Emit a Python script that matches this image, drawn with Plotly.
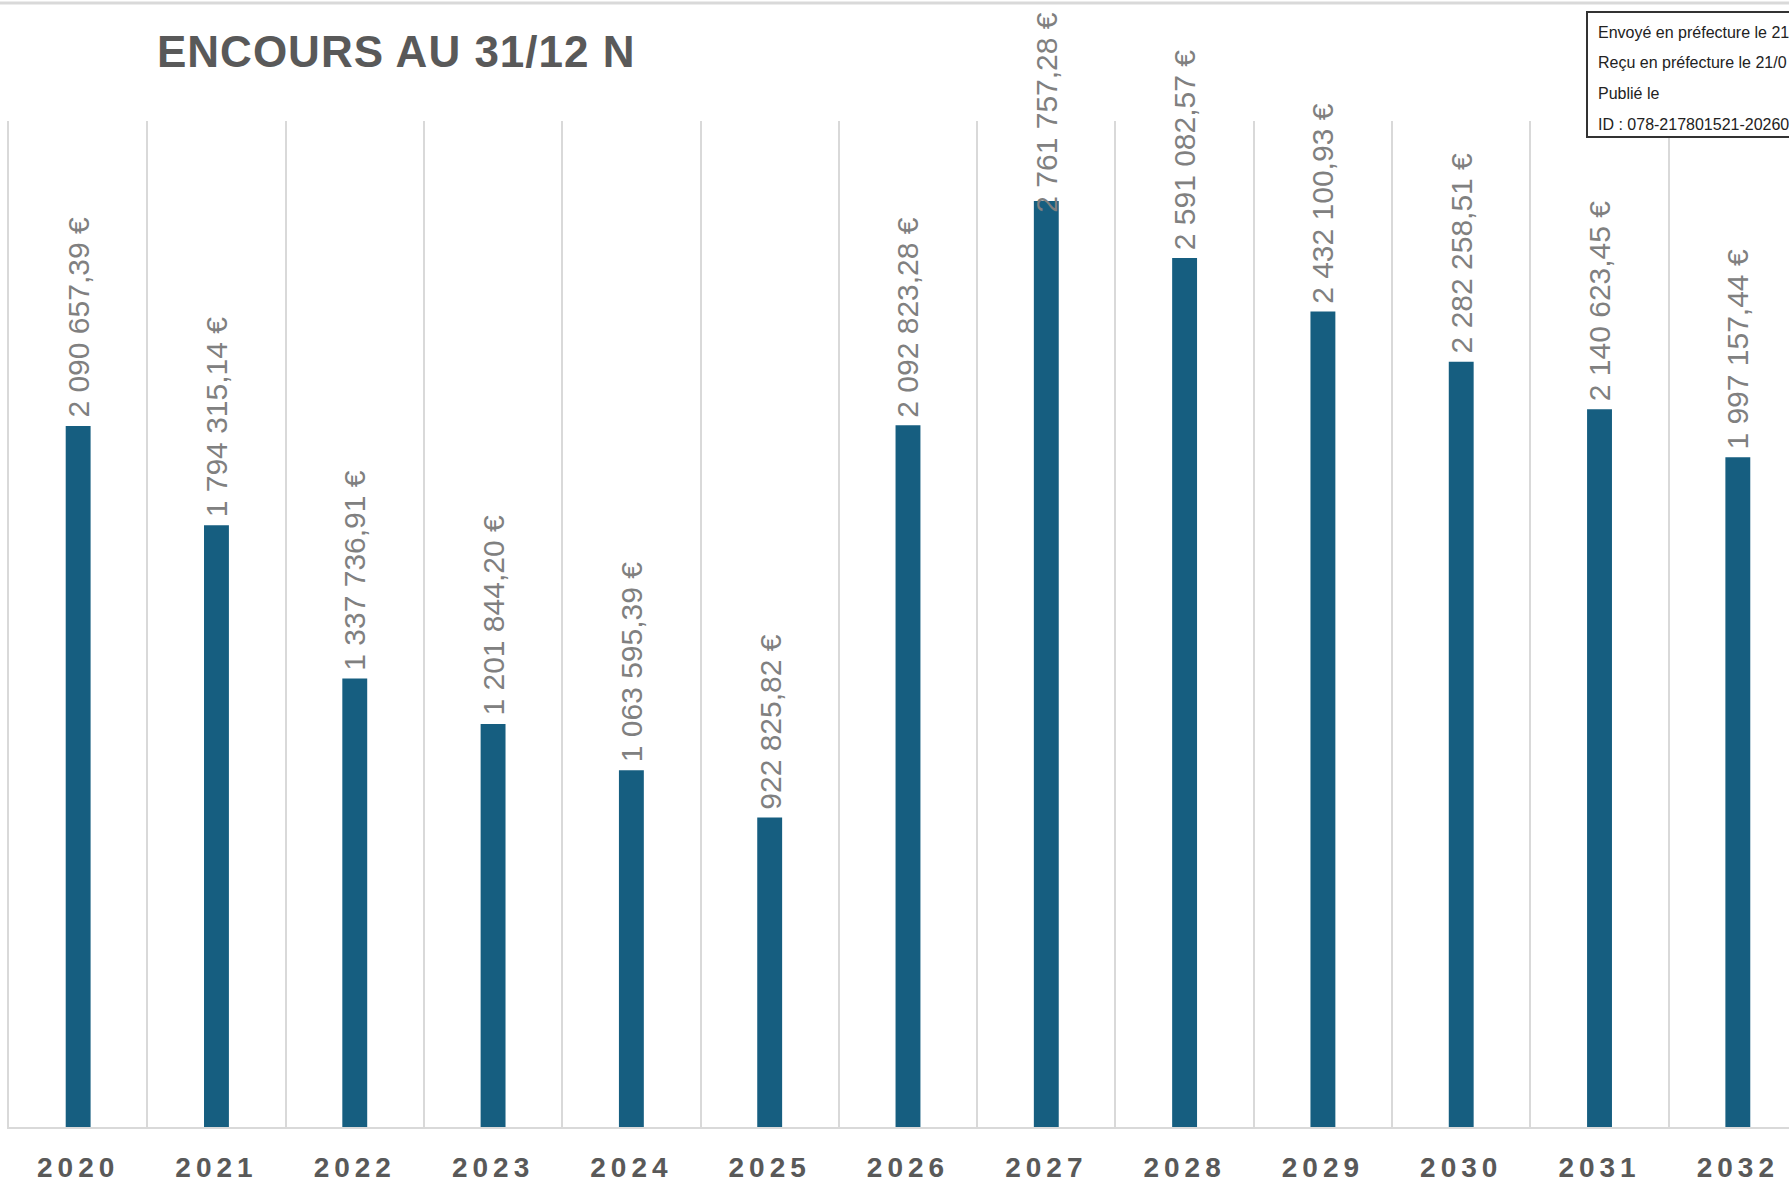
import plotly.graph_objects as go

# ---- data ----
years = ["2020", "2021", "2022", "2023", "2024", "2025", "2026",
         "2027", "2028", "2029", "2030", "2031", "2032"]
encours = [2090657.39, 1794315.14, 1337736.91, 1201844.20, 1063595.39,
           922825.82, 2092823.28, 2761757.28, 2591082.57, 2432100.93,
           2282258.51, 2140623.45, 1997157.44]
title_text = "ENCOURS AU 31/12 N"
stamp_lines = ["Envoyé en préfecture le 21",
               "Reçu en préfecture le 21/0",
               "Publié le",
               "ID : 078-217801521-20260"]

# ---- layout / styles ----
W, H = 1789, 1184
M_L, M_R, M_T, M_B = 9, 0, 121, 57
BAR_COLOR = "#165e80"
GRID = "#d9d9d9"
LABEL_GRAY = "#808080"
DARK_GRAY = "#595959"
label_shift = [6] * len(years)
# Excel pushes the tallest label down so it stays inside the chart area
label_shift[encours.index(max(encours))] = -14


def fmt_eur(v):
    s = f"{v:,.2f}".replace(",", " ").replace(".", ",")
    return s + " €"


plot_w = W - M_L - M_R
plot_h = H - M_T - M_B


def px_x(sx):
    """page x (px) -> paper x"""
    return (sx - M_L) / plot_w


def px_y(sy):
    """page y (px) -> paper y"""
    return (H - M_B - sy) / plot_h


fig = go.Figure()
fig.add_trace(go.Bar(
    x=years, y=encours, marker_color=BAR_COLOR, width=0.18,
    marker_line_width=0, hoverinfo="skip",
))

for i, (v, sh) in enumerate(zip(encours, label_shift)):
    fig.add_annotation(
        x=i, y=v, xref="x", yref="y", text=fmt_eur(v), textangle=-90,
        showarrow=False, yanchor="bottom", xanchor="center", yshift=sh,
        font=dict(family="Liberation Sans, Arial, sans-serif", size=30, color=LABEL_GRAY),
    )

# top light-gray rule
fig.add_shape(type="line", xref="paper", yref="paper",
              x0=px_x(-5), x1=px_x(1800), y0=px_y(3), y1=px_y(3),
              line=dict(color=GRID, width=3))

# stamp box (top right, cut by the page edge)
fig.add_shape(type="rect", xref="paper", yref="paper",
              x0=px_x(1587), x1=px_x(1830), y0=px_y(12), y1=px_y(137),
              line=dict(color="#333333", width=2), fillcolor="white", layer="above")
for i, line in enumerate(stamp_lines):
    fig.add_annotation(
        xref="paper", yref="paper", x=px_x(1596), y=px_y(32 + 30.8 * i),
        xanchor="left", yanchor="middle", showarrow=False, text=line,
        font=dict(family="Liberation Sans, Arial, sans-serif", size=16, color="#222222"),
    )

tick_text = [f'<span style="letter-spacing:5px">{y}</span>' for y in years]

fig.update_layout(
    width=W, height=H,
    margin=dict(l=M_L, r=M_R, t=M_T, b=M_B, pad=0, autoexpand=False),
    paper_bgcolor="white", plot_bgcolor="white",
    showlegend=False,
    title=dict(
        text=f'<span style="letter-spacing:1px">{title_text}</span>',
        xref="container", yref="container",
        x=157 / W, y=1 - 52 / H,
        xanchor="left", yanchor="middle",
        font=dict(family="Liberation Sans, Arial, sans-serif",
                  size=44, color=DARK_GRAY, weight="bold"),
    ),
    xaxis=dict(
        type="category", tickson="boundaries", range=[-0.5, 12.37],
        showgrid=True, gridcolor=GRID, gridwidth=2,
        showline=True, linecolor=GRID, linewidth=2,
        ticks="", tickvals=years, ticktext=tick_text,
        ticklabelstandoff=14, automargin=False,
        tickfont=dict(family="Liberation Sans, Arial, sans-serif", size=28,
                      color=DARK_GRAY, weight="bold"),
        fixedrange=True,
    ),
    yaxis=dict(
        range=[0, 3000000], showgrid=False, zeroline=False,
        showticklabels=False, ticks="", automargin=False,
        showline=True, linecolor=GRID, linewidth=2, fixedrange=True,
    ),
)

fig.write_html(
    "out.html",
    config={"displayModeBar": False},
    post_script="document.body.style.margin='0';document.body.style.overflow='hidden';",
)
